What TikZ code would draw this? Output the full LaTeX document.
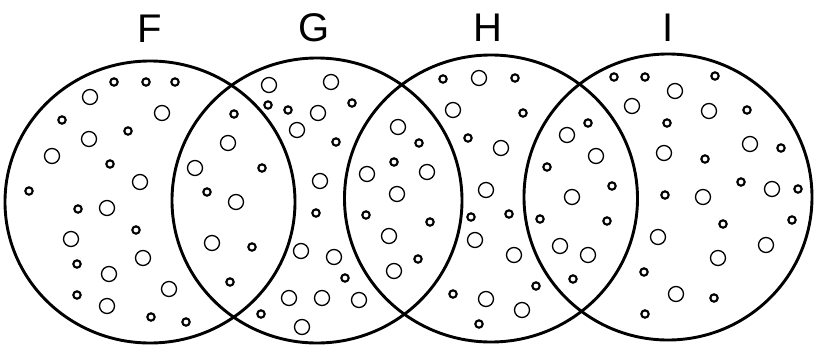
\documentclass[tikz,border=0pt]{standalone}
\usepackage{fontspec}
\setsansfont{Liberation Sans}
\usetikzlibrary{positioning,shapes.geometric}
\tikzset{
  every node/.style={font=\sffamily},
  ring/.style={draw=black, line width=2.9pt, ellipse, inner sep=0pt},
  lbl/.style={font=\sffamily\fontsize{40}{40}\selectfont, inner sep=0pt},
  bigpore/.style={draw=black, line width=1.3pt},
  smallpore/.style={draw=black, line width=2.1pt}
}

\begin{document}
\begin{tikzpicture}[x=1pt, y=-1pt]

\useasboundingbox (0,0) rectangle (815,346);

% the four sets
\node[ring, minimum width=290pt, minimum height=282pt] (F) at (150,202) {};
\node[ring, minimum width=290pt, minimum height=285pt] (G) at (317,200.5) {};
\node[ring, minimum width=293pt, minimum height=287pt] (H) at (491,198.5) {};
\node[ring, minimum width=288pt, minimum height=286pt] (I) at (668,197) {};

\node[lbl] (labF) at (150,29) {F};
\node[lbl] (labG) at (314,28) {G};
\node[lbl] (labH) at (488,28) {H};
\node[lbl] (labI) at (668,28) {I};

% large pores
\foreach \x/\y in {90/97, 162/113, 89/139, 52/156, 140/182, 107/208, 71/239, 143/258,
  109/274, 169/289, 107/306,
  228/143, 195/168, 236/202, 212/243,
  269/85, 331/82, 318/113, 297/130, 320/181, 301/251, 334/257, 289/298, 322/298,
  359/300, 302/327,
  398/127, 367/174, 427/172, 397/194, 389/236, 394/271,
  479/78, 453/110, 501/148, 486/190, 475/240, 514/255, 486/299, 522/310,
  567/135, 596/156, 572/197, 560/246, 588/255,
  675/91, 632/106, 709/111, 750/144, 664/153, 772/189, 703/197, 658/237, 766/245,
  718/258, 676/294}
  \draw[bigpore] (\x,\y) circle (7.5pt);

% small pores
\foreach \x/\y in {114/82, 146/82, 175/82, 62/120, 128/131, 110/164, 29/191, 78/209,
  136/230, 77/264, 77/295, 151/317, 186/322,
  234/114, 262/168, 207/192, 252/247, 230/282,
  268/105, 288/110, 352/103, 336/142, 316/213, 345/278, 261/314,
  419/143, 394/162, 366/215, 430/222, 418/259,
  443/79, 515/78, 523/113, 468/138, 471/217, 509/214, 453/294, 536/286, 479/324,
  588/123, 547/167, 612/186, 540/219, 607/221, 573/279,
  614/77, 645/77, 715/76, 747/110, 667/123, 705/159, 781/148, 741/182, 798/189,
  665/195, 723/224, 792/220, 644/272, 714/298, 645/314}
  \draw[smallpore] (\x,\y) circle (3.7pt);

\end{tikzpicture}
\end{document}
